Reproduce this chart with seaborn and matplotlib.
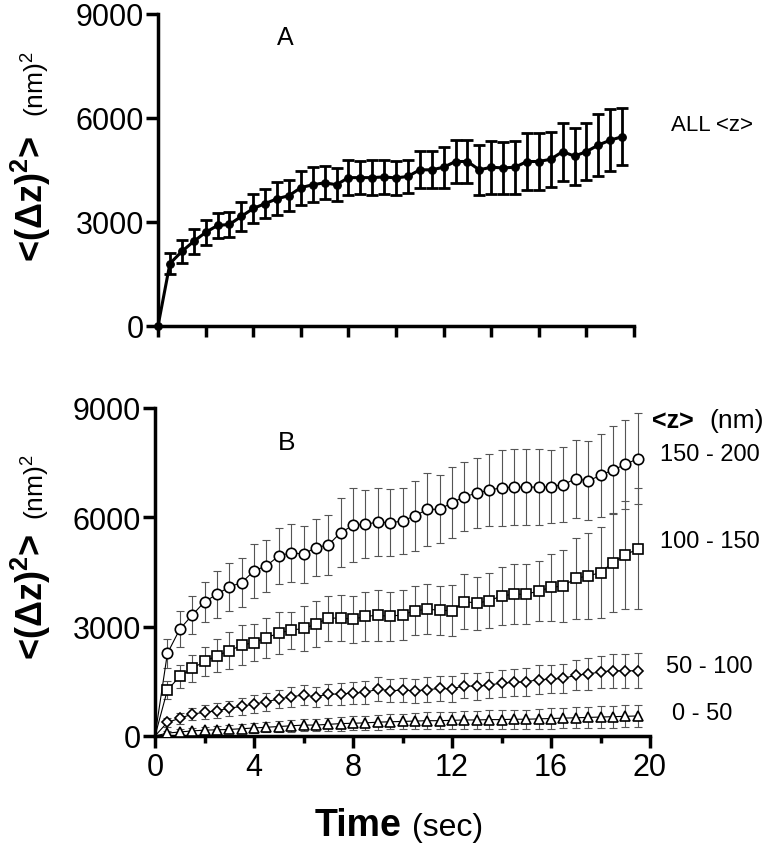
import matplotlib
matplotlib.use('Agg')
import matplotlib.pyplot as plt
import seaborn as sns

# time points (sec)
times = [0, 0.5, 1.0, 1.5, 2.0, 2.5, 3.0, 3.5, 4.0, 4.5,
         5.0, 5.5, 6.0, 6.5, 7.0, 7.5, 8.0, 8.5, 9.0, 9.5,
         10.0, 10.5, 11.0, 11.5, 12.0, 12.5, 13.0, 13.5, 14.0, 14.5,
         15.0, 15.5, 16.0, 16.5, 17.0, 17.5, 18.0, 18.5, 19.0, 19.5]

# panel A : all <z>
all_z = [0, 1800, 2150, 2440, 2700, 2900, 2930, 3160, 3390, 3530,
         3670, 3760, 3990, 4075, 4130, 4075, 4280, 4280, 4280, 4300,
         4270, 4315, 4505, 4505, 4580, 4745, 4745, 4505, 4580, 4560,
         4580, 4745, 4745, 4810, 5030, 4900, 5030, 5220, 5360, 5460]
all_z_err = [0, 310, 345, 360, 370, 360, 360, 420, 415, 425,
             470, 455, 490, 500, 480, 480, 510, 480, 500, 480,
             500, 480, 535, 535, 585, 615, 610, 725, 760, 760,
             760, 820, 820, 800, 835, 820, 825, 890, 890, 830]

# panel B : by <z> range
z150_200 = [0, 2265, 2930, 3315, 3680, 3890, 4090, 4210, 4530, 4670,
            4940, 5030, 4990, 5170, 5240, 5580, 5780, 5810, 5870, 5850,
            5900, 6040, 6220, 6220, 6400, 6570, 6660, 6750, 6810, 6830,
            6830, 6830, 6840, 6900, 7060, 7000, 7150, 7300, 7450, 7610]
z150_200_err = [0, 410, 490, 525, 550, 650, 650, 675, 745, 720,
                770, 800, 785, 785, 835, 945, 1015, 935, 935, 915,
                915, 960, 1005, 935, 980, 950, 960, 980, 1040, 1040,
                1040, 1040, 1005, 1030, 1075, 1085, 1140, 1200, 1210, 1255]

z100_150 = [0, 1260, 1635, 1855, 2045, 2200, 2340, 2490, 2565, 2700,
            2820, 2905, 2950, 3070, 3235, 3235, 3205, 3280, 3315, 3280,
            3330, 3435, 3480, 3450, 3435, 3690, 3645, 3710, 3845, 3890,
            3890, 3980, 4075, 4120, 4330, 4390, 4485, 4760, 4960, 5140]
z100_150_err = [0, 250, 320, 365, 390, 450, 500, 550, 500, 550,
                580, 510, 610, 640, 615, 640, 640, 660, 695, 660,
                685, 670, 685, 675, 695, 755, 730, 755, 800, 820,
                820, 820, 925, 995, 1110, 1185, 1255, 1370, 1480, 1660]

z50_100 = [0, 375, 485, 600, 650, 695, 760, 815, 875, 940,
           1015, 1075, 1125, 1075, 1150, 1150, 1180, 1195, 1290, 1240,
           1260, 1240, 1270, 1305, 1290, 1380, 1360, 1400, 1450, 1470,
           1490, 1545, 1560, 1580, 1670, 1700, 1760, 1790, 1790, 1790]
z50_100_err = [0, 120, 150, 170, 190, 200, 210, 230, 240, 250,
               260, 270, 280, 280, 290, 300, 300, 310, 320, 320,
               330, 330, 340, 340, 350, 350, 360, 360, 370, 370,
               380, 390, 390, 400, 420, 430, 440, 460, 470, 485]

z0_50 = [0, 80, 110, 140, 160, 170, 180, 200, 220, 240,
         260, 280, 300, 300, 320, 340, 350, 360, 380, 390,
         400, 410, 420, 420, 430, 440, 440, 450, 450, 460,
         460, 470, 480, 490, 500, 510, 520, 530, 540, 550]
z0_50_err = [0, 60, 70, 80, 90, 100, 110, 120, 130, 140,
             150, 160, 170, 175, 180, 190, 195, 200, 205, 210,
             215, 220, 225, 230, 235, 240, 245, 250, 255, 260,
             265, 270, 275, 280, 285, 290, 295, 300, 305, 305]

sns.set_theme(style='ticks')
plt.rcParams['font.family'] = ['Liberation Sans', 'DejaVu Sans']
plt.rcParams['text.color'] = 'black'
plt.rcParams['mathtext.fontset'] = 'custom'
plt.rcParams['mathtext.rm'] = 'Liberation Sans'
plt.rcParams['mathtext.bf'] = 'Liberation Sans:bold'
plt.rcParams['mathtext.it'] = 'Liberation Sans:italic'

fig = plt.figure(figsize=(7.64, 8.53), dpi=100)
ax_a = fig.add_axes([158/764, 1 - 327/853, 476/764, 312/853])
ax_b = fig.add_axes([155/764, 1 - 737/853, 495/764, 328/853])

# ---- panel A
ax_a.errorbar(times[1:], all_z[1:], yerr=all_z_err[1:], fmt='none', ecolor='black',
              elinewidth=2, capsize=4, capthick=2, zorder=2)
sns.lineplot(x=times, y=all_z, ax=ax_a, color='black', linewidth=2.2, marker='o',
             markersize=5.5, markeredgecolor='black', markeredgewidth=0.8,
             errorbar=None, sort=False, zorder=3, clip_on=False)
ax_a.text(5.34, 8350, 'A', fontsize=18, color='black', ha='center', va='center')
ax_a.text(21.55, 5800, 'ALL <z>', fontsize=16, color='black', ha='left', va='center')

# ---- panel B
series = [
    (z150_200, z150_200_err, 'o', 7.5),
    (z100_150, z100_150_err, 's', 7),
    (z50_100, z50_100_err, 'D', 5.5),
    (z0_50, z0_50_err, '^', 7),
]
for vals, errs, mk, ms in series:
    ax_b.errorbar(times[1:], vals[1:], yerr=errs[1:], fmt='none', ecolor='#555555',
                  elinewidth=0.8, capsize=2.8, capthick=0.8, zorder=2)
    sns.lineplot(x=times, y=vals, ax=ax_b, color='black', linewidth=0.8, marker=mk,
                 markersize=ms, markerfacecolor='white', markeredgecolor='black',
                 markeredgewidth=1.2, markevery=slice(1, None),
                 errorbar=None, sort=False, zorder=3)

ax_b.text(5.3, 8055, 'B', fontsize=19, color='black', ha='center', va='center')
ax_b.text(20.1, 8660, '<z>', fontsize=18, fontweight='bold', color='black',
          ha='left', va='center')
ax_b.text(22.4, 8660, '(nm)', fontsize=19, color='black', ha='left', va='center')
ax_b.text(20.4, 7730, '150 - 200', fontsize=17, color='black', ha='left', va='center')
ax_b.text(20.4, 5340, '100 - 150', fontsize=17, color='black', ha='left', va='center')
ax_b.text(20.65, 1920, '50 - 100', fontsize=17, color='black', ha='left', va='center')
ax_b.text(20.9, 630, '0 - 50', fontsize=17, color='black', ha='left', va='center')

# ---- axes styling
for ax in (ax_a, ax_b):
    sns.despine(ax=ax)
    for side in ('left', 'bottom'):
        ax.spines[side].set_linewidth(2.5)
        ax.spines[side].set_color('black')
    ax.set_xlim(0, 20)
    ax.set_ylim(0, 9000)
    ax.set_yticks([0, 3000, 6000, 9000])
    ax.set_xlabel('')
    ax.set_ylabel('')
    ax.tick_params(axis='y', direction='out', length=9, width=2.5, color='black',
                   labelsize=22, labelcolor='black', pad=1)

ax_a.set_xticks([0, 2, 4, 6, 8, 10, 12, 14, 16, 18, 20])
ax_a.set_xticklabels([])
ax_a.tick_params(axis='x', direction='out', length=8, width=2.5, color='black')

ax_b.set_xticks([0, 4, 8, 12, 16, 20])
ax_b.set_xticks([2, 6, 10, 14, 18], minor=True)
ax_b.tick_params(axis='x', which='major', direction='out', length=8.5, width=2.5,
                 color='black', labelsize=22, labelcolor='black', pad=3)
ax_b.tick_params(axis='x', which='minor', direction='out', length=5, width=2.5,
                 color='black')

# y labels (bold part + units)
for y_bold, y_unit in ((262, 117), (660, 520)):
    fig.text(43/764, 1 - y_bold/853, '<(Δz)$^{\\mathbf{2}}$>', fontsize=26,
             fontweight='bold', color='black', rotation=90, rotation_mode='anchor',
             ha='left', va='baseline')
    fig.text(45/764, 1 - y_unit/853, '(nm)$^{2}$', fontsize=19, color='black',
             rotation=90, rotation_mode='anchor', ha='left', va='baseline')

# x label
fig.text(315/764, 1 - 836/853, 'Time', fontsize=27, fontweight='bold', color='black',
         ha='left', va='baseline')
fig.text(412/764, 1 - 836/853, '(sec)', fontsize=23, color='black',
         ha='left', va='baseline')

fig.savefig('out.png', dpi=100, facecolor='white')
